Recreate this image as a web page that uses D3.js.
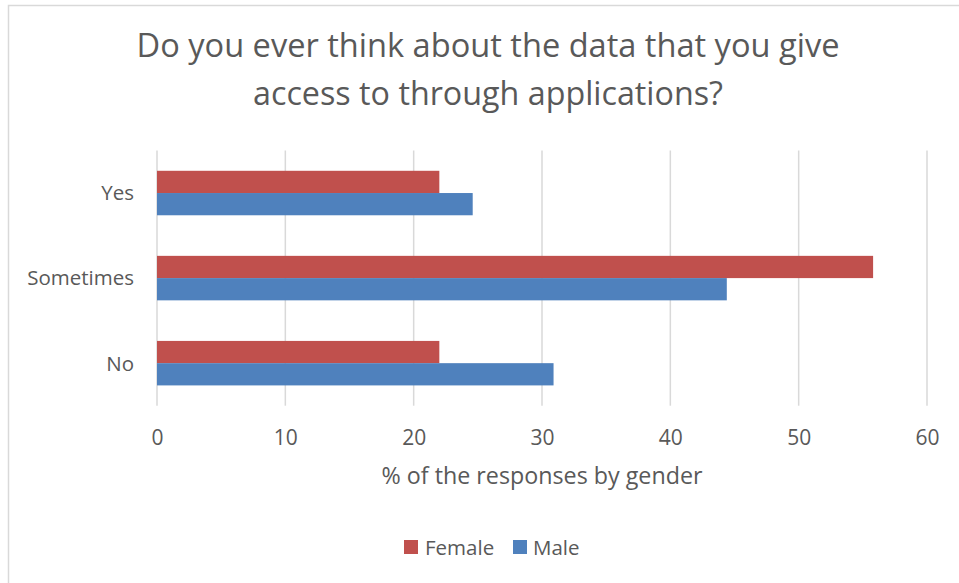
<!DOCTYPE html>
<html>
<head>
<meta charset="utf-8">
<script src="https://cdn.jsdelivr.net/npm/d3@7"></script>
<style>
  html, body { margin: 0; padding: 0; background: #fff; }
  svg { display: block; }
  text { font-family: "Open Sans", "Liberation Sans", sans-serif; fill: #595959; }
</style>
</head>
<body>
<svg id="chart" width="959" height="583"></svg>
<script>
// Survey answers, % of responses by gender
const categories = ["Yes", "Sometimes", "No"];
const seriesNames = ["Female", "Male"];
const femaleValues = [22.0, 55.8, 22.0];
const maleValues = [24.6, 44.4, 30.9];
const xTicks = [0, 10, 20, 30, 40, 50, 60];
const titleLines = ["Do you ever think about the data that you give", "access to through applications?"];
const xAxisTitle = "% of the responses by gender";
const colors = { Female: "#C0504D", Male: "#4F81BD" };

const svg = d3.select("#chart");
const W = 959, H = 583;
const plot = { left: 157, right: 927, top: 150.5, bottom: 405.7 };

svg.append("rect").attr("width", W).attr("height", H).attr("fill", "#fff");
// outer chart frame
svg.append("rect")
  .attr("x", 8.5).attr("y", 5.5).attr("width", W + 10).attr("height", H + 10)
  .attr("fill", "none").attr("stroke", "#d9d9d9").attr("stroke-width", 1.5);

// shrink/grow font size so a text spans the wanted width
function fitWidth(sel, width) {
  const size = parseFloat(sel.attr("font-size"));
  const w = sel.node().getComputedTextLength();
  sel.attr("font-size", (size * width / w).toFixed(2));
}

const x = d3.scaleLinear().domain([0, 60]).range([plot.left, plot.right]);
const y = d3.scaleBand().domain(categories).range([plot.top, plot.bottom])
  .paddingInner(0.477).paddingOuter(0.2385);
const ySub = d3.scaleBand().domain(seriesNames).range([0, y.bandwidth()]);

// title
const titleBase = [57, 105];
const titleWidths = [703, 470];
titleLines.forEach((t, i) => {
  const el = svg.append("text")
    .attr("x", 488).attr("y", titleBase[i])
    .attr("text-anchor", "middle")
    .attr("font-size", 28)
    .text(t);
  fitWidth(el, titleWidths[i]);
});

// vertical gridlines
svg.append("g").selectAll("line").data(xTicks).join("line")
  .attr("x1", d => x(d)).attr("x2", d => x(d))
  .attr("y1", plot.top).attr("y2", plot.bottom)
  .attr("stroke", "#d9d9d9").attr("stroke-width", 1.5);

// bars
const rows = categories.map((c, i) => ({ cat: c, Female: femaleValues[i], Male: maleValues[i] }));
const groups = svg.append("g").selectAll("g").data(rows).join("g")
  .attr("transform", d => `translate(0,${y(d.cat)})`);
groups.selectAll("rect")
  .data(d => seriesNames.map(s => ({ s, v: d[s] })))
  .join("rect")
  .attr("x", x(0))
  .attr("y", d => ySub(d.s))
  .attr("width", d => x(d.v) - x(0))
  .attr("height", ySub.bandwidth())
  .attr("fill", d => colors[d.s]);

// x axis tick labels
const xAxis = d3.axisBottom(x).tickValues(xTicks).tickSize(0).tickPadding(0);
const xg = svg.append("g").attr("transform", `translate(0,${plot.bottom})`).call(xAxis);
xg.select(".domain").remove();
xg.selectAll("text")
  .attr("font-family", null).attr("fill", null)
  .attr("font-size", 21).attr("dy", null).attr("y", 39.5);
xg.attr("font-family", null).attr("font-size", null);

// y axis category labels
const yAxis = d3.axisLeft(y).tickSize(0).tickPadding(23);
const yg = svg.append("g").attr("transform", `translate(${plot.left},0)`).call(yAxis);
yg.select(".domain").remove();
yg.attr("font-family", null).attr("font-size", null);
yg.selectAll("text")
  .attr("fill", null).attr("font-size", 20.5).attr("dy", "0.36em");

// x axis title
const at = svg.append("text")
  .attr("x", 542).attr("y", 484)
  .attr("text-anchor", "middle").attr("font-size", 20)
  .text(xAxisTitle);
fitWidth(at, 321);

// legend
const legendItems = [
  { name: "Female", sx: 404, tx: 425 },
  { name: "Male", sx: 513, tx: 533 }
];
const lg = svg.append("g");
legendItems.forEach(it => {
  lg.append("rect").attr("x", it.sx).attr("y", 540).attr("width", 14).attr("height", 14)
    .attr("fill", colors[it.name]);
  lg.append("text").attr("x", it.tx).attr("y", 555).attr("font-size", 20.5).text(it.name);
});
</script>
</body>
</html>
